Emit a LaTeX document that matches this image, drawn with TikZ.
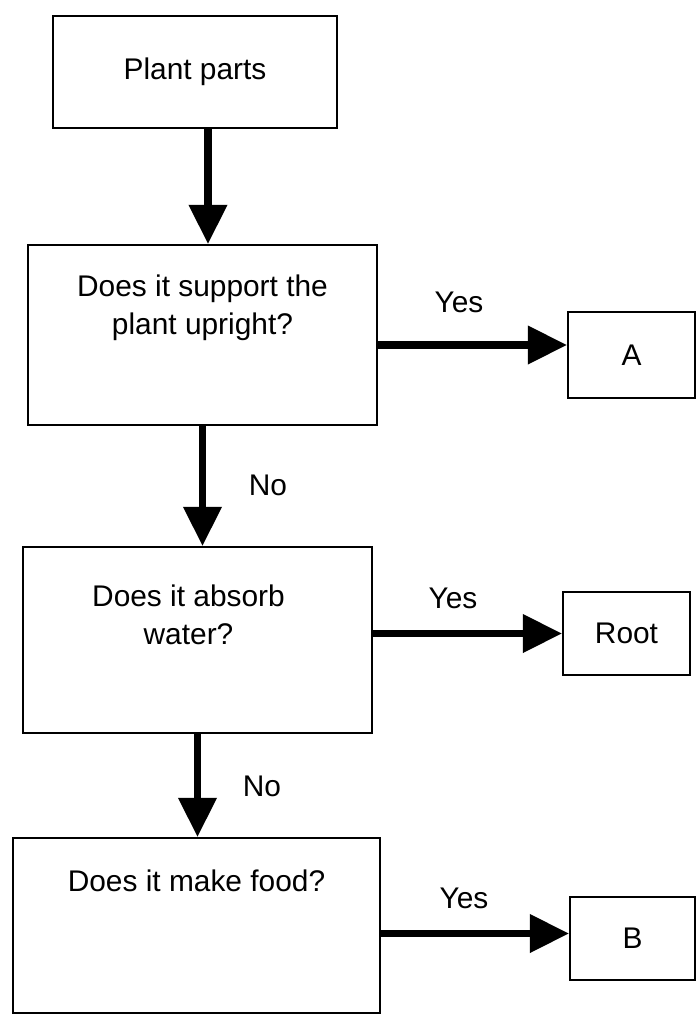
\documentclass[tikz,border=0pt]{standalone}
\usepackage{fontspec}
\setmainfont{Liberation Sans}
\usetikzlibrary{arrows.meta}

\begin{document}
\begin{tikzpicture}[line width=1.2pt,
	box/.style={draw, rectangle, inner sep=0pt},
	txt/.style={font=\fontsize{17}{21.6}\selectfont, align=center, inner sep=0pt},
	flow/.style={line width=4pt, -{Triangle[length=0.78cm, width=0.74cm]}}]
		
		\useasboundingbox (0,0) rectangle (13.92,-20.34);
		
		\node[box, txt, minimum width=5.68cm, minimum height=2.24cm] (plant) at (3.90,-1.44) {Plant parts};
		
		\node[box, minimum width=6.98cm, minimum height=3.60cm] (q1) at (4.05,-6.70) {};
		\node[txt] (q1text) at ([yshift=-1.28cm]q1.north) {Does it support the\\plant upright?};
		
		\node[box, minimum width=6.98cm, minimum height=3.72cm] (q2) at (3.95,-12.80) {};
		\node[txt] (q2text) at ([xshift=-0.18cm, yshift=-1.38cm]q2.north) {Does it absorb\\water?};
		
		\node[box, minimum width=7.34cm, minimum height=3.50cm] (q3) at (3.93,-18.51) {};
		\node[txt] (q3text) at ([yshift=-0.88cm]q3.north) {Does it make food?};
		
		\node[box, txt, minimum width=2.54cm, minimum height=1.72cm] (a) at (12.63,-7.10) {A};
		\node[box, txt, minimum width=2.54cm, minimum height=1.66cm] (root) at (12.53,-12.67) {Root};
		\node[box, txt, minimum width=2.50cm, minimum height=1.66cm] (b) at (12.65,-18.77) {B};
		
		\draw[flow] ([xshift=2.6mm]plant.south) -- ([xshift=2.6mm]plant.south |- q1.north);
		\draw[flow] (q1.south) -- (q1.south |- q2.north);
		\draw[flow] (q2.south) -- (q2.south |- q3.north);
		
		\draw[flow] ([yshift=2mm]a.west -| q1.east) -- ([yshift=2mm]a.west);
		\draw[flow] (root.west -| q2.east) -- (root.west);
		\draw[flow] ([yshift=1mm]b.west -| q3.east) -- ([yshift=1mm]b.west);
		
		\node[txt] (yes1) at (9.18,-6.04) {Yes};
		\node[txt] (yes2) at (9.06,-11.96) {Yes};
		\node[txt] (yes3) at (9.28,-17.96) {Yes};
		\node[txt] (no1) at (5.36,-9.70) {No};
		\node[txt] (no2) at (5.24,-15.72) {No};
		
	\end{tikzpicture}
\end{document}
